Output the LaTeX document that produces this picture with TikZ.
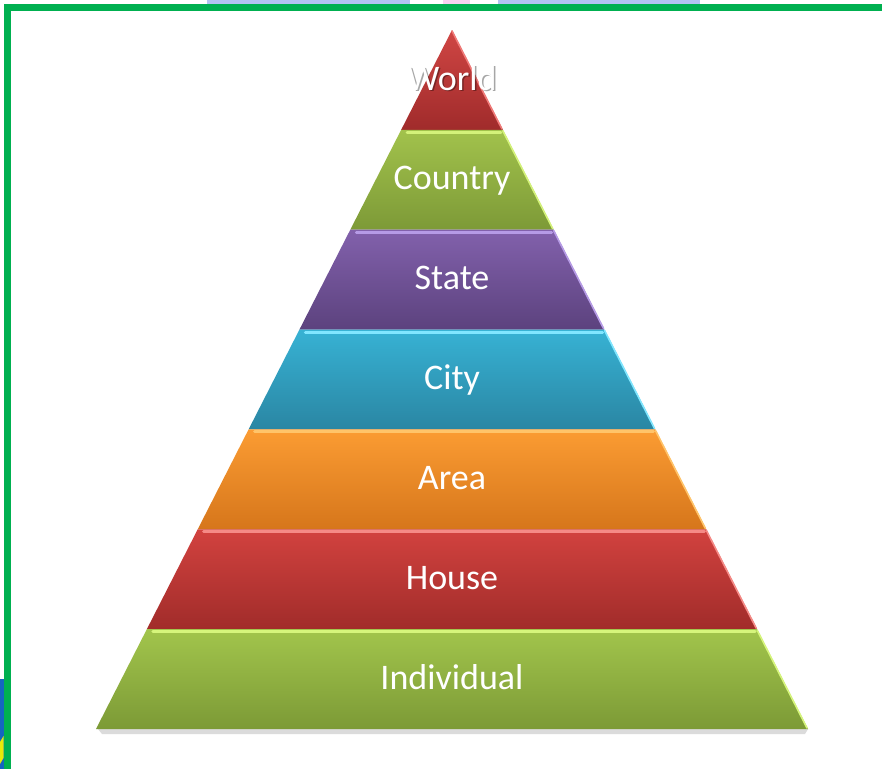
\documentclass[tikz,border=0pt]{standalone}
\usepackage{fontspec}
\setmainfont{Carlito}
\definecolor{bordergreen}{HTML}{00B050}
\definecolor{topblue}{HTML}{B4C2F2}
\definecolor{toppink}{HTML}{F8D2F0}
\definecolor{sideblue}{HTML}{1565C0}
\definecolor{worldT}{HTML}{D04644}\definecolor{worldB}{HTML}{A02B2B}\definecolor{worldH}{HTML}{F07A78}
\definecolor{countryT}{HTML}{A2C24C}\definecolor{countryB}{HTML}{7D9A37}\definecolor{countryH}{HTML}{D4F27A}
\definecolor{stateT}{HTML}{8261AC}\definecolor{stateB}{HTML}{5C427E}\definecolor{stateH}{HTML}{B69BE6}
\definecolor{cityT}{HTML}{37B2D4}\definecolor{cityB}{HTML}{2A86A3}\definecolor{cityH}{HTML}{80E6FF}
\definecolor{areaT}{HTML}{FB9C33}\definecolor{areaB}{HTML}{D6761B}\definecolor{areaH}{HTML}{FFC46A}
\definecolor{houseT}{HTML}{D2423F}\definecolor{houseB}{HTML}{A12C2A}\definecolor{houseH}{HTML}{F58A86}
\definecolor{indivT}{HTML}{A2C54C}\definecolor{indivB}{HTML}{7C9A36}\definecolor{indivH}{HTML}{D6F57C}
\tikzset{
  lab/.style={text=white, font=\fontsize{36}{40}\selectfont, anchor=base, inner sep=0pt},
  labshadow/.style={text=black, opacity=0.35, font=\fontsize{36}{40}\selectfont, anchor=base, inner sep=0pt},
  rimlight/.style={line width=1.6pt, line cap=round},
  toplight/.style={line width=3pt, line cap=round}
}
\begin{document}
\begin{tikzpicture}[x=1pt,y=-1pt]
\useasboundingbox (0,0) rectangle (882,769);
\fill[white] (0,0) rectangle (882,769);
% cropped fragments at the edges
\fill[topblue] (207,0) rectangle (410,4.5);
\fill[toppink] (443,0) rectangle (470,4.5);
\fill[topblue] (498,0) rectangle (700,4.5);
\fill[sideblue] (0,679) rectangle (3.5,769);
\fill[yellow!90!green] (0,742) -- (3.5,736) -- (3.5,758) -- (0,764) -- cycle;
% green frame
\fill[bordergreen] (4,4) rectangle (882,11);
\fill[bordergreen] (4,4) rectangle (11,769);
% base shadow
\fill[black!14] (98,729) -- (808,729) -- (805,734) -- (102,734) -- cycle;
% pyramid bands
\foreach \i/\ct/\cb/\ch/\txt in {0/worldT/worldB/worldH/World,1/countryT/countryB/countryH/Country,2/stateT/stateB/stateH/State,3/cityT/cityB/cityH/City,4/areaT/areaB/areaH/Area,5/houseT/houseB/houseH/House,6/indivT/indivB/indivH/Individual}{
  \pgfmathsetmacro\yt{30+99.857*\i}
  \pgfmathsetmacro\yb{30+99.857*(\i+1)}
  \pgfmathsetmacro\wt{0.5093*(\yt-30)}
  \pgfmathsetmacro\wb{0.5093*(\yb-30)}
  \shade[top color=\ct, bottom color=\cb] (452-\wt,\yt) -- (452+\wt,\yt) -- (452+\wb,\yb) -- (452-\wb,\yb) -- cycle;
  \draw[\ch, rimlight] (452+\wt,\yt+1) -- (452+\wb-1,\yb-1);
  \ifnum\i>0
    \draw[\ch, toplight] (452-\wt+6,\yt+2.5) -- (452+\wt-2,\yt+2.5);
  \fi
  \ifnum\i=0
    \node[labshadow] at (453.5,91.5) {World};
  \fi
  \node[lab] (\txt) at (452,\yt+60) {\txt};
}
\end{tikzpicture}
\end{document}
